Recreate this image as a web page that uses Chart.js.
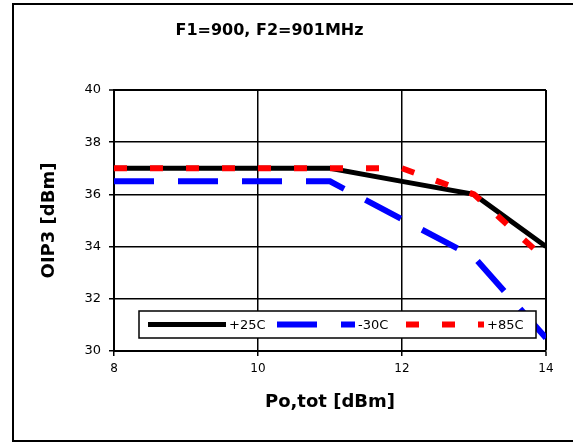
<!DOCTYPE html>
<html>
<head>
<meta charset="utf-8">
<script src="https://cdn.jsdelivr.net/npm/chart.js@4.4.0/dist/chart.umd.min.js"></script>
<style>
  html, body { margin: 0; padding: 0; background: #fff; }
</style>
</head>
<body>
<canvas id="c" width="573" height="442"></canvas>
<script>
// Po,tot [dBm] sweep and measured OIP3 [dBm] per temperature
const xPower = [8, 9, 10, 11, 12, 13, 14];
const oip3Plus25 = [37, 37, 37, 37, 36.5, 36, 34];
const oip3Minus30 = [36.5, 36.5, 36.5, 36.5, 35.05, 33.6, 30.5];
const oip3Plus85 = [37, 37, 37, 37, 37, 36, 33.5];
const seriesLabels = ['+25C', '-30C', '+85C'];
const xTicks = [8, 10, 12, 14];
const yTicks = [30, 32, 34, 36, 38, 40];

const FONT = 'DejaVu Sans';

const pts = (ys) => xPower.map((x, i) => ({ x: x, y: ys[i] }));

// outer frame (top, left, bottom edges; right edge is cropped off in the original)
const framePlugin = {
  id: 'frame',
  afterLayout(chart) {
    // the original title sits a bit left of the plot centre
    if (chart.titleBlock) chart.titleBlock.right = 527;
  },
  beforeDraw(chart) {
    const c = chart.ctx;
    c.save();
    c.strokeStyle = '#000';
    c.lineWidth = 2;
    c.beginPath();
    c.moveTo(573, 4);
    c.lineTo(13, 4);
    c.lineTo(13, 441);
    c.lineTo(573, 441);
    c.stroke();
    c.restore();
  }
};

// legend box inside the plot, like the Excel one
const boxLegend = {
  id: 'boxLegend',
  afterDatasetsDraw(chart) {
    const c = chart.ctx;
    const a = chart.chartArea;
    const left = a.left + 25, right = a.right - 10;
    const top = a.bottom - 40, bottom = a.bottom - 13;
    const midY = (top + bottom) / 2;
    c.save();
    c.fillStyle = '#fff';
    c.fillRect(left, top, right - left, bottom - top);
    c.strokeStyle = '#000';
    c.lineWidth = 1.5;
    c.strokeRect(left, top, right - left, bottom - top);
    c.font = '13px "' + FONT + '"';
    c.textBaseline = 'middle';
    c.fillStyle = '#000';
    chart.data.datasets.forEach((ds, i) => {
      const x0 = left + 9 + i * 129;
      c.beginPath();
      c.strokeStyle = ds.borderColor;
      c.lineWidth = ds.borderWidth;
      c.lineCap = 'butt';
      c.setLineDash(ds.borderDash || []);
      c.moveTo(x0, midY);
      c.lineTo(x0 + 78, midY);
      c.stroke();
      c.setLineDash([]);
      c.fillText(ds.label, x0 + 81, midY + 1);
    });
    c.restore();
  }
};

new Chart(document.getElementById('c'), {
  type: 'line',
  data: {
    datasets: [
      { label: seriesLabels[0], data: pts(oip3Plus25), borderColor: '#000000', borderWidth: 5, order: 2 },
      { label: seriesLabels[1], data: pts(oip3Minus30), borderColor: '#0000ff', borderWidth: 6, borderDash: [40, 24], order: 1 },
      { label: seriesLabels[2], data: pts(oip3Plus85), borderColor: '#ff0000', borderWidth: 6, borderDash: [13, 23], order: 0 }
    ]
  },
  options: {
    responsive: false,
    animation: false,
    elements: {
      point: { radius: 0 },
      line: { tension: 0, borderCapStyle: 'butt', borderJoinStyle: 'miter' }
    },
    layout: { padding: { left: 12, right: 27, top: 0, bottom: 0 } },
    plugins: {
      legend: { display: false },
      tooltip: { enabled: false },
      title: {
        display: true,
        text: 'F1=900, F2=901MHz',
        color: '#000',
        font: { family: FONT, size: 16, weight: 'bold' },
        padding: { top: 21, bottom: 90 - 21 - 19.2 }
      }
    },
    scales: {
      x: {
        type: 'linear',
        min: 8,
        max: 14,
        afterBuildTicks: (s) => { s.ticks = xTicks.map((v) => ({ value: v })); },
        afterFit: (s) => { s.height = 91; },
        grid: {
          color: '#000',
          lineWidth: (ctx) => (ctx.tick && ctx.tick.value === 14 ? 2 : 1.5),
          tickLength: 5,
          tickWidth: 1.5
        },
        border: { color: '#000', width: 2 },
        ticks: { color: '#000', font: { family: FONT, size: 12 }, padding: 6, maxRotation: 0 },
        title: {
          display: true,
          text: 'Po,tot [dBm]',
          color: '#000',
          font: { family: FONT, size: 18, weight: 'bold' },
          padding: { top: 0, bottom: 29 }
        }
      },
      y: {
        min: 30,
        max: 40,
        afterBuildTicks: (s) => { s.ticks = yTicks.map((v) => ({ value: v })); },
        afterFit: (s) => { s.width = 102; },
        grid: {
          color: '#000',
          lineWidth: (ctx) => (ctx.tick && ctx.tick.value === 40 ? 2 : 1.5),
          tickLength: 5,
          tickWidth: 1.5
        },
        border: { color: '#000', width: 2 },
        ticks: { color: '#000', font: { family: FONT, size: 13 }, padding: 8 },
        title: {
          display: true,
          text: 'OIP3 [dBm]',
          color: '#000',
          font: { family: FONT, size: 18, weight: 'bold' },
          padding: { top: 27, bottom: 0 }
        }
      }
    }
  },
  plugins: [framePlugin, boxLegend]
});
</script>
</body>
</html>
